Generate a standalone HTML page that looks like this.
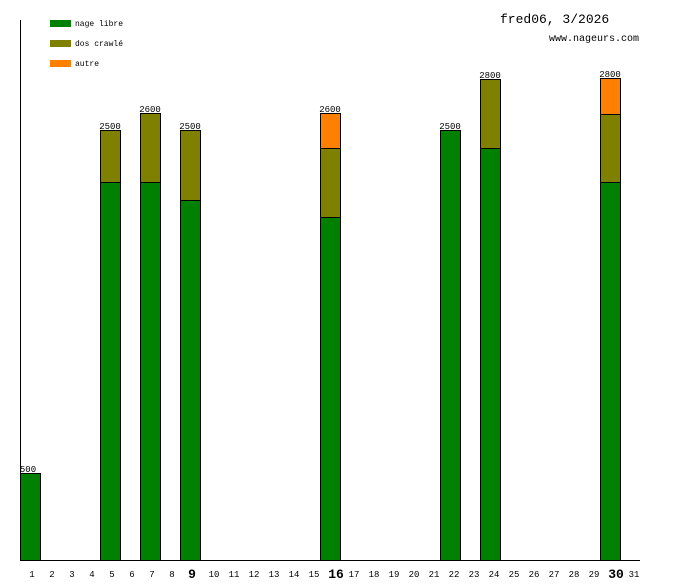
<!DOCTYPE html>
<html><head><style>
body{margin:0;background:#fff;}
svg text{font-family:"Liberation Mono","DejaVu Sans Mono",monospace;fill:#000;}
</style></head><body>
<svg width="680" height="580" xmlns="http://www.w3.org/2000/svg">
<rect width="680" height="580" fill="#fff"/>
<line x1="20.5" y1="20" x2="20.5" y2="561" stroke="#000"/>
<line x1="20" y1="560.5" x2="640" y2="560.5" stroke="#000"/>
<rect x="50" y="20" width="21" height="7" fill="#008000"/>
<rect x="50" y="40" width="21" height="7" fill="#808000"/>
<rect x="50" y="60" width="21" height="7" fill="#ff8000"/>
<text x="75" y="26" font-size="8">nage libre</text>
<text x="75" y="46" font-size="8">dos crawlé</text>
<text x="75" y="66" font-size="8">autre</text>
<text x="500" y="23" font-size="13">fred06, 3/2026</text>
<text x="549" y="41" font-size="10">www.nageurs.com</text>
<g stroke="#000" stroke-width="1">
<rect x="20.5" y="473.5" width="20" height="87" fill="#008000"/>
<rect x="100.5" y="130.5" width="20" height="52" fill="#808000"/>
<rect x="100.5" y="182.5" width="20" height="378" fill="#008000"/>
<rect x="140.5" y="113.5" width="20" height="69" fill="#808000"/>
<rect x="140.5" y="182.5" width="20" height="378" fill="#008000"/>
<rect x="180.5" y="130.5" width="20" height="70" fill="#808000"/>
<rect x="180.5" y="200.5" width="20" height="360" fill="#008000"/>
<rect x="320.5" y="113.5" width="20" height="35" fill="#ff8000"/>
<rect x="320.5" y="148.5" width="20" height="69" fill="#808000"/>
<rect x="320.5" y="217.5" width="20" height="343" fill="#008000"/>
<rect x="440.5" y="130.5" width="20" height="430" fill="#008000"/>
<rect x="480.5" y="79.5" width="20" height="69" fill="#808000"/>
<rect x="480.5" y="148.5" width="20" height="412" fill="#008000"/>
<rect x="600.5" y="78.5" width="20" height="36" fill="#ff8000"/>
<rect x="600.5" y="114.5" width="20" height="68" fill="#808000"/>
<rect x="600.5" y="182.5" width="20" height="378" fill="#008000"/>
</g>
<g font-size="9" text-anchor="middle">
<text x="28" y="472">500</text>
<text x="110" y="129">2500</text>
<text x="150" y="112">2600</text>
<text x="190" y="129">2500</text>
<text x="330" y="112">2600</text>
<text x="450" y="129">2500</text>
<text x="490" y="78">2800</text>
<text x="610" y="77">2800</text>
</g>
<g font-size="9" text-anchor="middle">
<text x="32" y="577">1</text><text x="52" y="577">2</text><text x="72" y="577">3</text><text x="92" y="577">4</text>
<text x="112" y="577">5</text><text x="132" y="577">6</text><text x="152" y="577">7</text><text x="172" y="577">8</text>
<text x="192" y="578" font-size="13" font-weight="bold">9</text>
<text x="214" y="577">10</text><text x="234" y="577">11</text><text x="254" y="577">12</text><text x="274" y="577">13</text><text x="294" y="577">14</text><text x="314" y="577">15</text>
<text x="336" y="578" font-size="13" font-weight="bold">16</text>
<text x="354" y="577">17</text><text x="374" y="577">18</text><text x="394" y="577">19</text><text x="414" y="577">20</text><text x="434" y="577">21</text><text x="454" y="577">22</text><text x="474" y="577">23</text><text x="494" y="577">24</text><text x="514" y="577">25</text><text x="534" y="577">26</text><text x="554" y="577">27</text><text x="574" y="577">28</text><text x="594" y="577">29</text>
<text x="616" y="578" font-size="13" font-weight="bold">30</text>
<text x="634" y="577">31</text>
</g>
</svg>
</body></html>
